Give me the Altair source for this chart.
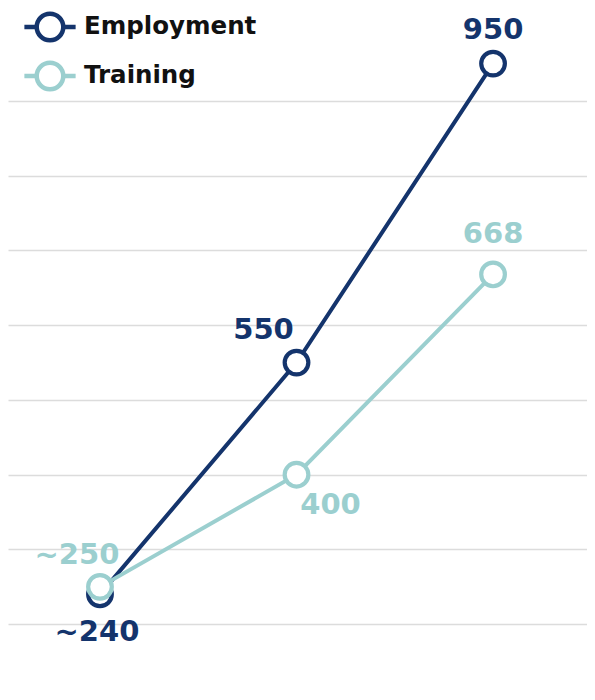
import altair as alt
import pandas as pd

stages = [0, 1, 2]
series_names = ["Employment", "Training"]
employment = [240, 550, 950]
training = [250, 400, 668]
employment_labels = ["~240", "550", "950"]
training_labels = ["~250", "400", "668"]
grid_values = [100, 200, 300, 400, 500, 600, 700, 800, 900]

colors = ["#14346c", "#9bcfcf"]

rows = []
for s, v, l in zip(stages, employment, employment_labels):
    rows.append({"stage": s, "value": v, "series": "Employment", "label": l})
for s, v, l in zip(stages, training, training_labels):
    rows.append({"stage": s, "value": v, "series": "Training", "label": l})
df = pd.DataFrame(rows)

FONT = "DejaVu Sans"

x_enc = alt.X("stage:Q", scale=alt.Scale(domain=[-0.468, 2.478], nice=False, zero=False), axis=None)
y_enc = alt.Y(
    "value:Q",
    scale=alt.Scale(domain=[114.7, 1024.4], nice=False, zero=False),
    axis=alt.Axis(values=grid_values, grid=True, gridColor="#dcdcdc", gridWidth=1.3,
                  labels=False, ticks=False, domain=False, title=None),
)

legend_path = "M-1.08,0L-0.56,0M0.56,0L1.08,0M-0.56,0A0.56,0.56,0,1,1,0.56,0A0.56,0.56,0,1,1,-0.56,0Z"

color_enc = alt.Color(
    "series:N",
    scale=alt.Scale(domain=series_names, range=colors),
    legend=alt.Legend(
        title=None, orient="none", legendX=16, legendY=-7,
        symbolType=legend_path, symbolSize=2250, symbolStrokeWidth=4.5,
        symbolFillColor="white", labelFont=FONT, labelFontWeight="bold",
        labelFontSize=24.5, labelColor="#111111", labelOffset=8, rowPadding=0,
        labelLimit=400, padding=0,
    ),
)

base = alt.Chart(df)

lines = base.mark_line(strokeWidth=4).encode(x=x_enc, y=y_enc, color=color_enc, detail="series:N")

points = base.mark_point(filled=False, fill="white", fillOpacity=1, strokeWidth=4.2, size=560, opacity=1, shape="circle").encode(
    x=x_enc, y=y_enc, stroke=alt.Stroke("series:N", scale=alt.Scale(domain=series_names, range=colors), legend=None),
    order=alt.Order("series:N", sort="ascending"),
)

offsets = {
    ("Employment", 0): (-3, 47),
    ("Employment", 1): (-33, -24),
    ("Employment", 2): (0, -25),
    ("Training", 0): (-23, -23),
    ("Training", 1): (34, 39),
    ("Training", 2): (0, -31),
}

label_layers = []
for (ser, st), (dx, dy) in offsets.items():
    col = colors[series_names.index(ser)]
    label_layers.append(
        base.transform_filter(
            (alt.datum.series == ser) & (alt.datum.stage == st)
        ).mark_text(
            dx=dx, dy=dy, align="center", baseline="alphabetic",
            font=FONT, fontWeight="bold", fontSize=29, color=col,
        ).encode(x=x_enc, y=y_enc, text="label:N")
    )

chart = alt.layer(lines, points, *label_layers).properties(
    width=579, height=680,
    padding=0,
    autosize=alt.AutoSizeParams(type="none"),
).configure_view(stroke=None)

chart.save("out.html", embed_options={"renderer": "svg", "actions": False})
